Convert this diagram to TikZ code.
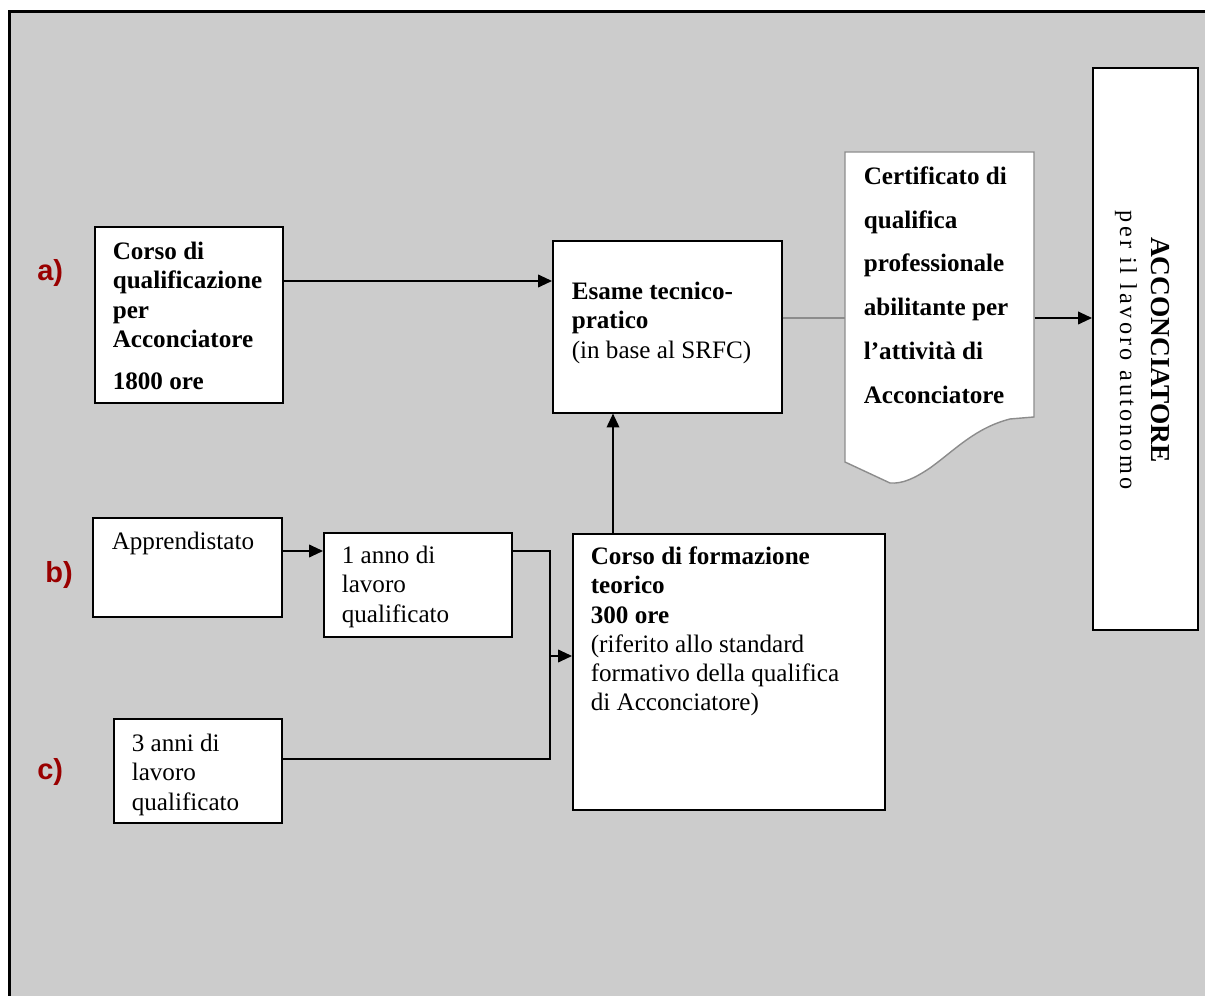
\documentclass[tikz,border=0pt]{standalone}
\usepackage{fontspec}
\setmainfont{Liberation Serif}
\newfontfamily\labfont{Liberation Sans}
\usetikzlibrary{arrows.meta}
\newdimen\pxu \pxu=0.02cm
\newcommand{\txtsize}{\fontsize{14.3}{16.6}\selectfont}
\definecolor{bggrey}{HTML}{CCCCCC}
\definecolor{labred}{HTML}{990000}
\definecolor{docgrey}{HTML}{8C8C8C}
\tikzset{
  box/.style={draw, fill=white, line width=0.9pt, anchor=north west, align=flush left, inner ysep=0pt},
  lbl/.style={font=\labfont\bfseries\fontsize{16.5}{18}\selectfont, text=labred, anchor=base west, inner sep=0pt},
  arr/.style={line width=0.9pt, -{Triangle[length=7.9pt,width=7.2pt]}}
}
\begin{document}
\begin{tikzpicture}[x=0.02cm, y=-0.02cm, font=\txtsize]
\useasboundingbox (0,0) rectangle (1205,996);
% grey panel, framed on the left and top only
\fill[bggrey] (9.5,11.5) rectangle (1205,996);
\draw[line width=1.7pt] (9.5,996) -- (9.5,11.5) -- (1205,11.5);

% route a)
\node[lbl] (la) at (37,281) {a)};
\node[box, font=\txtsize\bfseries, inner xsep=18\pxu, text width=152\pxu, text height=33\pxu, text depth=143\pxu] (corso) at (94,226) {Corso di\\qualificazione\\per\\Acconciatore\\[13.5\pxu]1800 ore};
\node[box, inner xsep=19\pxu, text width=191\pxu, text height=59\pxu, text depth=113\pxu] (esame) at (552,240) {\textbf{Esame tecnico-}\\\textbf{pratico}\\(in base al SRFC)};

% certificate, drawn as a document sheet
\filldraw[fill=white, draw=docgrey, line width=0.8pt] (845,152) -- (1034,152) -- (1034,417) -- (1010,419) .. controls (975,428) and (955,450) .. (930,468) .. controls (915,478) and (903,484) .. (890,483) -- (845,462) -- cycle;
\node[anchor=north west, align=flush left, inner ysep=0pt, inner xsep=18.5\pxu, text width=152\pxu, text height=32\pxu, text depth=233\pxu, font=\fontsize{14.3}{24.9}\selectfont\bfseries] (cert) at (845,152) {Certificato di\\qualifica\\professionale\\abilitante per\\l’attività di\\Acconciatore};

\node[box, minimum width=105\pxu, minimum height=562\pxu] (acc) at (1092,67) {};
\node[rotate=-90, anchor=base, align=flush center, text width=320\pxu, inner sep=0pt, font=\fontsize{13.8}{17.6}\selectfont] (acctext) at (1151,350) {{\fontsize{15.6}{17.6}\selectfont\bfseries ACCONCIATORE}\\{\addfontfeature{LetterSpace=13}per il lavoro autonomo}};

% routes b) and c)
\node[lbl] (lb) at (45,583) {b)};
\node[box, inner xsep=19\pxu, text width=151\pxu, text height=32\pxu, text depth=67\pxu] (appr) at (92,517) {Apprendistato};
\node[box, inner xsep=18\pxu, text width=152\pxu, text height=31\pxu, text depth=73\pxu] (anno) at (323,532) {1 anno di\\lavoro\\qualificato};
\node[lbl] (lc) at (37,780) {c)};
\node[box, inner xsep=18\pxu, text width=132\pxu, text height=33\pxu, text depth=71\pxu] (tre) at (113,718) {3 anni di\\lavoro\\qualificato};
\node[box, inner xsep=18\pxu, text width=276\pxu, text height=31\pxu, text depth=245\pxu] (formaz) at (572,533) {\textbf{Corso di formazione}\\\textbf{teorico}\\\textbf{300 ore}\\(riferito allo standard\\formativo della qualifica\\di Acconciatore)};

% connectors
\draw[arr] (corso.east |- 0,281) -- (esame.west |- 0,281);
\draw[arr] (formaz.north -| 613,0) -- (esame.south -| 613,0);
\draw[docgrey, line width=0.8pt] (esame.east |- 0,318) -- (cert.west |- 0,318);
\draw[arr] (cert.east |- 0,318) -- (acc.west |- 0,318);
\draw[arr] (appr.east |- 0,551) -- (anno.west |- 0,551);
\coordinate (join) at (550,656);
\draw[line width=0.9pt] (anno.east |- 0,551) -| (join) |- (tre.east |- 0,759);
\draw[arr] (join) -- (formaz.west |- join);
\end{tikzpicture}
\end{document}
